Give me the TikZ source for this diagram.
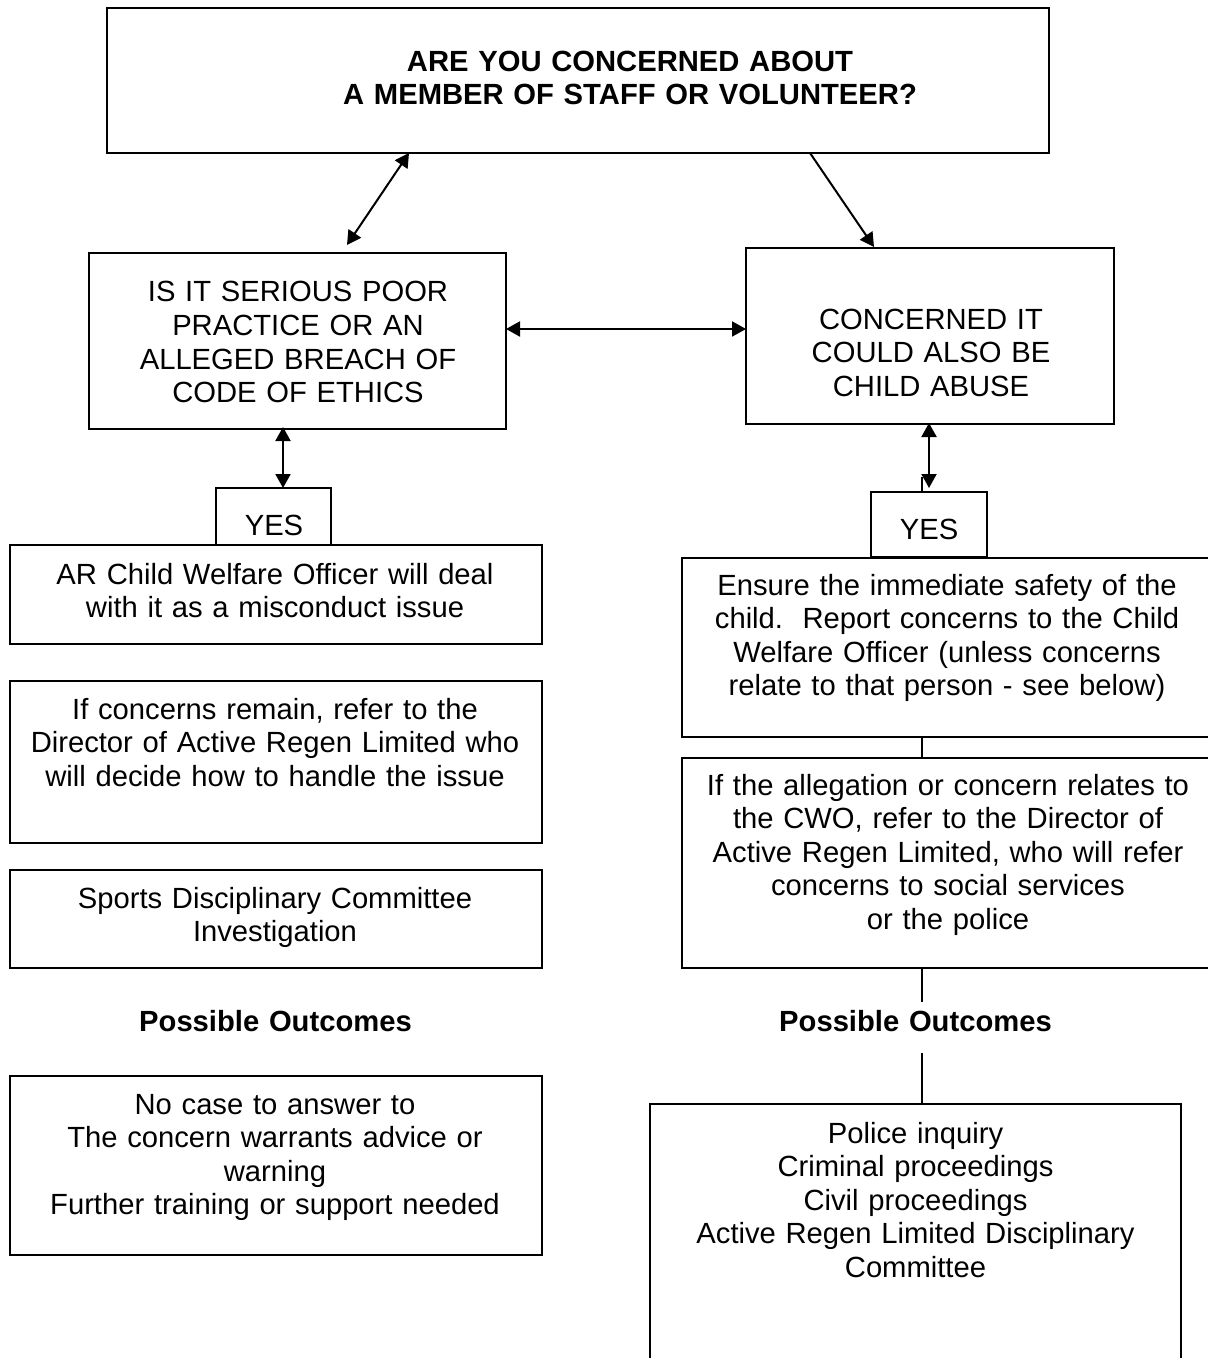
\documentclass[tikz,border=0pt]{standalone}
\usepackage{fontspec}
\setmainfont{Liberation Sans}
\usetikzlibrary{arrows.meta,fit,calc}
\begin{document}
\begin{tikzpicture}[x=0.5pt,y=-0.5pt,
  box/.style={draw, line width=0.75pt, inner sep=0pt, outer sep=0pt},
  txt/.style={anchor=base, inner sep=0pt, align=center, text width=#1,
    font=\fontsize{14.6pt}{16.75pt}\selectfont},
  boldtxt/.style={font=\fontsize{14.6pt}{16.5pt}\selectfont\bfseries},
  conn/.style={line width=1pt, -{Triangle[length=7pt,width=7.5pt]}},
  dconn/.style={line width=1pt, {Triangle[length=7pt,width=7.5pt]}-{Triangle[length=7pt,width=7.5pt]}},
  plain/.style={line width=0.75pt}]
\useasboundingbox (0,0) rectangle (1208,1358);
\clip (0,0) rectangle (1208,1358);

% boxes
\node[box, fit={(107,8)(1049,153)}] (top) {};
\node[box, fit={(89,253)(506,429)}] (left) {};
\node[box, fit={(746,248)(1114,424)}] (right) {};
\node[box, fit={(216,488)(331,545)}] (yesL) {};
\node[box, fit={(871,492)(987,557)}] (yesR) {};
\node[box, fit={(10,545)(542,644)}] (A) {};
\node[box, fit={(10,681)(542,843)}] (B) {};
\node[box, fit={(10,870)(542,968)}] (C) {};
\node[box, fit={(10,1076)(542,1255)}] (D) {};
\node[box, fit={(682,558)(1212,737)}] (E) {};
\node[box, fit={(682,758)(1212,968)}] (F) {};
\node[box, fit={(650,1104)(1181,1380)}] (G) {};

% texts
\node[txt=330pt, boldtxt] (topT) at (630,72) {ARE YOU CONCERNED ABOUT\\A MEMBER OF STAFF OR VOLUNTEER?};
\node[txt=200pt] (leftT) at (298,302) {IS IT SERIOUS POOR\\PRACTICE OR AN\\ALLEGED BREACH OF\\CODE OF ETHICS};
\node[txt=180pt] (rightT) at (931,329) {CONCERNED IT\\COULD ALSO BE\\CHILD ABUSE};
\node[txt=50pt] (yesLT) at (274,535) {YES};
\node[txt=50pt] (yesRT) at (929,539) {YES};
\node[txt=280pt] (AT) at (275,584) {AR Child Welfare Officer will deal\\with it as a misconduct issue};
\node[txt=280pt] (BT) at (275,719) {If concerns remain, refer to the\\Director of Active Regen Limited who\\will decide how to handle the issue};
\node[txt=280pt] (CT) at (275,908) {Sports Disciplinary Committee\\Investigation};
\node[txt=200pt, boldtxt] (poL) at (275.5,1031) {Possible Outcomes};
\node[txt=280pt] (DT) at (275,1114) {No case to answer to\\The concern warrants advice or\\warning\\Further training or support needed};
\node[txt=280pt] (ET) at (947,595) {Ensure the immediate safety of the\\child.~~Report concerns to the Child\\Welfare Officer (unless concerns\\relate to that person - see below)};
\node[txt=280pt] (FT) at (948,795) {If the allegation or concern relates to\\the CWO, refer to the Director of\\Active Regen Limited, who will refer\\concerns to social services\\or the police};
\node[txt=200pt, boldtxt] (poR) at (915.5,1031) {Possible Outcomes};
\node[txt=280pt] (GT) at (915.5,1143) {Police inquiry\\Criminal proceedings\\Civil proceedings\\Active Regen Limited Disciplinary\\Committee};

% connectors
\draw[dconn] ($(top.south west)+(302,0)$) -- ($(left.north west)+(258,-8)$);
\draw[conn] ($(top.south west)+(703,0)$) -- ($(right.north west)+(128,-1)$);
\draw[dconn] ($(left.north east)+(0,76)$) -- ($(right.north west)+(0,81)$);
\draw[dconn] ($(left.south west)+(194,-2)$) -- ($(yesL.north west)+(67,0)$);
\draw[dconn] ($(right.south west)+(183,-1)$) -- ($(yesR.north west)+(58,-4)$);
\draw[plain] ($(yesR.north west)+(51,0)$) -- ++(0,-15);
\draw[plain] ($(E.south west)+(240,0)$) -- ($(F.north west)+(240,0)$);
\coordinate (poRtop) at (922,1002);
\coordinate (poRbot) at (922,1053);
\draw[plain] ($(F.south west)+(240,0)$) -- (poRtop);
\draw[plain] (poRbot) -- ($(G.north west)+(272,0)$);
\end{tikzpicture}
\end{document}
